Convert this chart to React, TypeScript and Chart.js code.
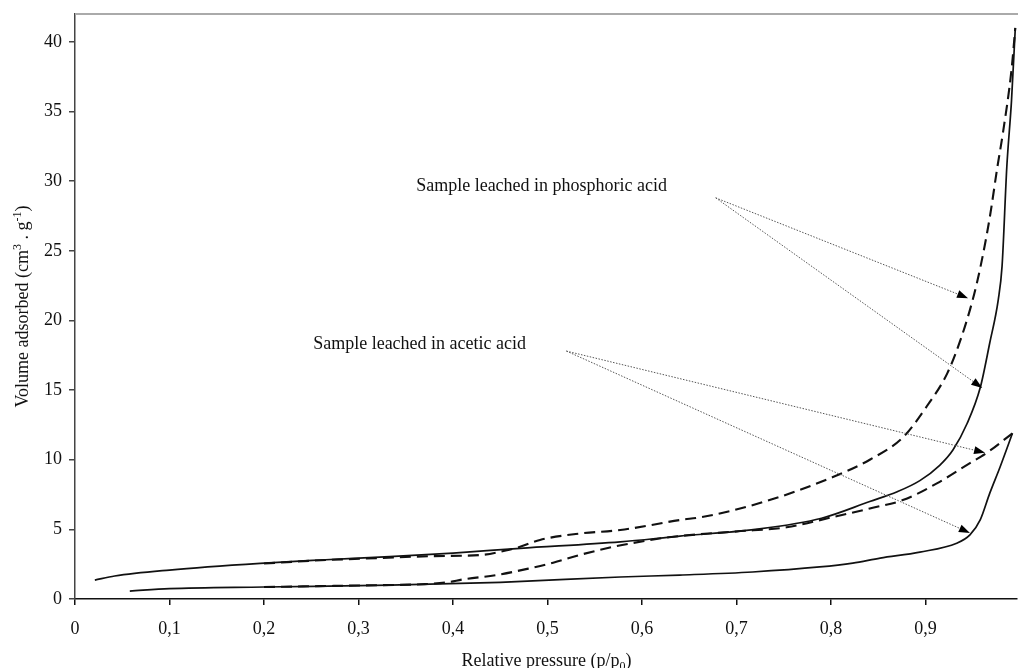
import React, { useEffect, useRef } from "react";
import { Chart, registerables } from "chart.js";

Chart.register(...registerables);

// ---- axis ticks ----
const xTicks = [0, 0.1, 0.2, 0.3, 0.4, 0.5, 0.6, 0.7, 0.8, 0.9];
const yTicks = [0, 5, 10, 15, 20, 25, 30, 35, 40];
const xMax = 0.9968;
const yMax = 42;

// ---- Sample leached in phosphoric acid ----
const phosAdsP = [0.021, 0.042, 0.1, 0.196, 0.26, 0.333, 0.4, 0.471, 0.577, 0.64, 0.72, 0.79, 0.841, 0.87, 0.894, 0.915, 0.929, 0.944, 0.958, 0.968, 0.977, 0.981, 0.986, 0.991, 0.995];
const phosAdsV = [1.36, 1.65, 2.08, 2.56, 2.8, 3.04, 3.3, 3.64, 4.1, 4.52, 5.0, 5.8, 7.0, 7.7, 8.5, 9.6, 10.7, 12.6, 15.2, 18.4, 21.5, 23.9, 31.0, 35.8, 41.0];
const phosDesP = [0.2, 0.26, 0.323, 0.38, 0.43, 0.457, 0.471, 0.492, 0.534, 0.577, 0.64, 0.665, 0.735, 0.802, 0.841, 0.876, 0.901, 0.923, 0.937, 0.95, 0.958, 0.968, 0.976, 0.982, 0.991, 0.995];
const phosDesV = [2.55, 2.78, 2.94, 3.08, 3.16, 3.5, 3.75, 4.24, 4.7, 4.95, 5.67, 5.9, 7.1, 8.76, 10.0, 11.6, 13.8, 16.2, 18.6, 21.5, 23.8, 27.4, 31.0, 33.5, 38.0, 41.0];

// ---- Sample leached in acetic acid ----
const acetAdsP = [0.058, 0.1, 0.2, 0.333, 0.45, 0.577, 0.64, 0.717, 0.788, 0.823, 0.852, 0.894, 0.933, 0.947, 0.958, 0.968, 0.979, 0.992];
const acetAdsV = [0.57, 0.74, 0.86, 1.0, 1.2, 1.58, 1.72, 1.94, 2.3, 2.58, 2.94, 3.37, 4.0, 4.6, 5.7, 7.6, 9.5, 11.9];
const acetDesP = [0.2, 0.3, 0.37, 0.394, 0.411, 0.446, 0.481, 0.506, 0.534, 0.57, 0.605, 0.633, 0.7, 0.753, 0.8, 0.841, 0.876, 0.912, 0.947, 0.965, 0.992];
const acetDesV = [0.86, 0.97, 1.07, 1.2, 1.41, 1.72, 2.2, 2.6, 3.16, 3.75, 4.19, 4.47, 4.85, 5.15, 5.85, 6.5, 7.1, 8.3, 9.76, 10.5, 11.9];

// ---- annotations (data coordinates) ----
const labelTexts = ["Sample leached in phosphoric acid", "Sample leached in acetic acid"];
const labelP = [0.361, 0.252];
const labelV = [29.3, 17.95];
const arrowStartP = [0.678, 0.678, 0.52, 0.52];
const arrowStartV = [28.8, 28.8, 17.8, 17.8];
const arrowEndP = [0.945, 0.96, 0.963, 0.947];
const arrowEndV = [21.6, 15.15, 10.5, 4.74];

const FONT = '"Liberation Serif", "DejaVu Serif", serif';

const toPoints = (p: number[], v: number[]) => p.map((x, i) => ({ x, y: v[i] }));

type Part = { t: string; s?: "sup" | "sub" };
const xTitle: Part[] = [{ t: "Relative pressure (p/p" }, { t: "0", s: "sub" }, { t: ")" }];
const yTitle: Part[] = [{ t: "Volume adsorbed (cm" }, { t: "3", s: "sup" }, { t: " . g" }, { t: "-1", s: "sup" }, { t: ")" }];

function drawRich(ctx: CanvasRenderingContext2D, parts: Part[], size: number) {
  const small = Math.round(size * 0.68);
  let total = 0;
  const widths = parts.map((p) => {
    ctx.font = `${p.s ? small : size}px ${FONT}`;
    const w = ctx.measureText(p.t).width;
    total += w;
    return w;
  });
  let x = -total / 2;
  ctx.textBaseline = "alphabetic";
  ctx.textAlign = "left";
  parts.forEach((p, i) => {
    ctx.font = `${p.s ? small : size}px ${FONT}`;
    const dy = p.s === "sup" ? -size * 0.38 : p.s === "sub" ? size * 0.2 : 0;
    ctx.fillText(p.t, x, dy);
    x += widths[i];
  });
}

const decorPlugin = {
  id: "decor",
  afterDraw(chart: any) {
    const { ctx, chartArea, scales } = chart;
    const xs = scales.x;
    const ys = scales.y;
    ctx.save();
    // top frame line
    ctx.strokeStyle = "#aaaaaa";
    ctx.lineWidth = 2;
    ctx.beginPath();
    ctx.moveTo(chartArea.left, chartArea.top);
    ctx.lineTo(chart.width, chartArea.top);
    ctx.stroke();

    // annotation labels
    ctx.fillStyle = "#111";
    ctx.font = `18px ${FONT}`;
    ctx.textAlign = "left";
    ctx.textBaseline = "alphabetic";
    labelTexts.forEach((t, i) => {
      ctx.fillText(t, xs.getPixelForValue(labelP[i]), ys.getPixelForValue(labelV[i]));
    });

    // arrows
    arrowStartP.forEach((_, i) => {
      const x0 = xs.getPixelForValue(arrowStartP[i]);
      const y0 = ys.getPixelForValue(arrowStartV[i]);
      const x1 = xs.getPixelForValue(arrowEndP[i]);
      const y1 = ys.getPixelForValue(arrowEndV[i]);
      const ang = Math.atan2(y1 - y0, x1 - x0);
      const L = 11;
      const W = 4;
      const bx = x1 - L * Math.cos(ang);
      const by = y1 - L * Math.sin(ang);
      ctx.strokeStyle = "#555";
      ctx.lineWidth = 1;
      ctx.setLineDash([1.5, 1.5]);
      ctx.beginPath();
      ctx.moveTo(x0, y0);
      ctx.lineTo(bx, by);
      ctx.stroke();
      ctx.setLineDash([]);
      ctx.fillStyle = "#000";
      ctx.beginPath();
      ctx.moveTo(x1, y1);
      ctx.lineTo(bx + W * Math.sin(ang), by - W * Math.cos(ang));
      ctx.lineTo(bx - W * Math.sin(ang), by + W * Math.cos(ang));
      ctx.closePath();
      ctx.fill();
    });

    // axis titles
    ctx.fillStyle = "#111";
    ctx.save();
    ctx.translate((chartArea.left + chart.width) / 2, chart.height - 2);
    drawRich(ctx, xTitle, 18);
    ctx.restore();
    ctx.save();
    ctx.translate(28, (chartArea.top + chartArea.bottom) / 2);
    ctx.rotate(-Math.PI / 2);
    drawRich(ctx, yTitle, 18);
    ctx.restore();
    ctx.restore();
  },
};

export default function App() {
  const ref = useRef<HTMLCanvasElement>(null);
  useEffect(() => {
    document.body.style.margin = "0";
    const solid = { borderColor: "#111", borderWidth: 1.7, pointRadius: 0, fill: false, cubicInterpolationMode: "monotone" as const };
    const dashed = { ...solid, borderWidth: 2.1, borderDash: [11, 6] };
    const chart = new Chart(ref.current as HTMLCanvasElement, {
      type: "line",
      data: {
        datasets: [
          { label: "Phosphoric acid – adsorption", data: toPoints(phosAdsP, phosAdsV), ...solid },
          { label: "Phosphoric acid – desorption", data: toPoints(phosDesP, phosDesV), ...dashed },
          { label: "Acetic acid – adsorption", data: toPoints(acetAdsP, acetAdsV), ...solid },
          { label: "Acetic acid – desorption", data: toPoints(acetDesP, acetDesV), ...dashed },
        ],
      },
      options: {
        responsive: false,
        animation: false,
        devicePixelRatio: 1,
        layout: { padding: { top: 14, right: 1, left: 0, bottom: 0 } },
        plugins: { legend: { display: false }, tooltip: { enabled: false } },
        scales: {
          x: {
            type: "linear",
            min: 0,
            max: xMax,
            afterBuildTicks: (s: any) => {
              s.ticks = xTicks.map((value) => ({ value }));
            },
            afterFit: (s: any) => {
              s.height = 69;
              s.paddingLeft = 0;
              s.paddingRight = 0;
            },
            ticks: {
              autoSkip: false,
              maxRotation: 0,
              padding: 13,
              color: "#111",
              font: { family: FONT, size: 18 },
              callback: (v: any) => (Number(v) === 0 ? "0" : Number(v).toFixed(1).replace(".", ",")),
            },
            grid: { drawOnChartArea: false, drawTicks: true, tickLength: 6, color: "#111", lineWidth: 1.5 },
            border: { display: true, color: "#111", width: 1.5 },
          },
          y: {
            type: "linear",
            min: 0,
            max: yMax,
            afterBuildTicks: (s: any) => {
              s.ticks = yTicks.map((value) => ({ value }));
            },
            afterFit: (s: any) => {
              s.width = 75;
              s.paddingTop = 0;
              s.paddingBottom = 0;
            },
            ticks: {
              autoSkip: false,
              padding: 7,
              color: "#111",
              font: { family: FONT, size: 18 },
              callback: (v: any) => String(v),
            },
            grid: { drawOnChartArea: false, drawTicks: true, tickLength: 6, color: "#444", lineWidth: 1.5 },
            border: { display: true, color: "#444", width: 1.5 },
          },
        },
      },
      plugins: [decorPlugin],
    });
    return () => chart.destroy();
  }, []);
  return (
    <div style={{ width: 1018, height: 668, position: "relative" }}>
      <canvas ref={ref} width={1018} height={668} />
    </div>
  );
}
